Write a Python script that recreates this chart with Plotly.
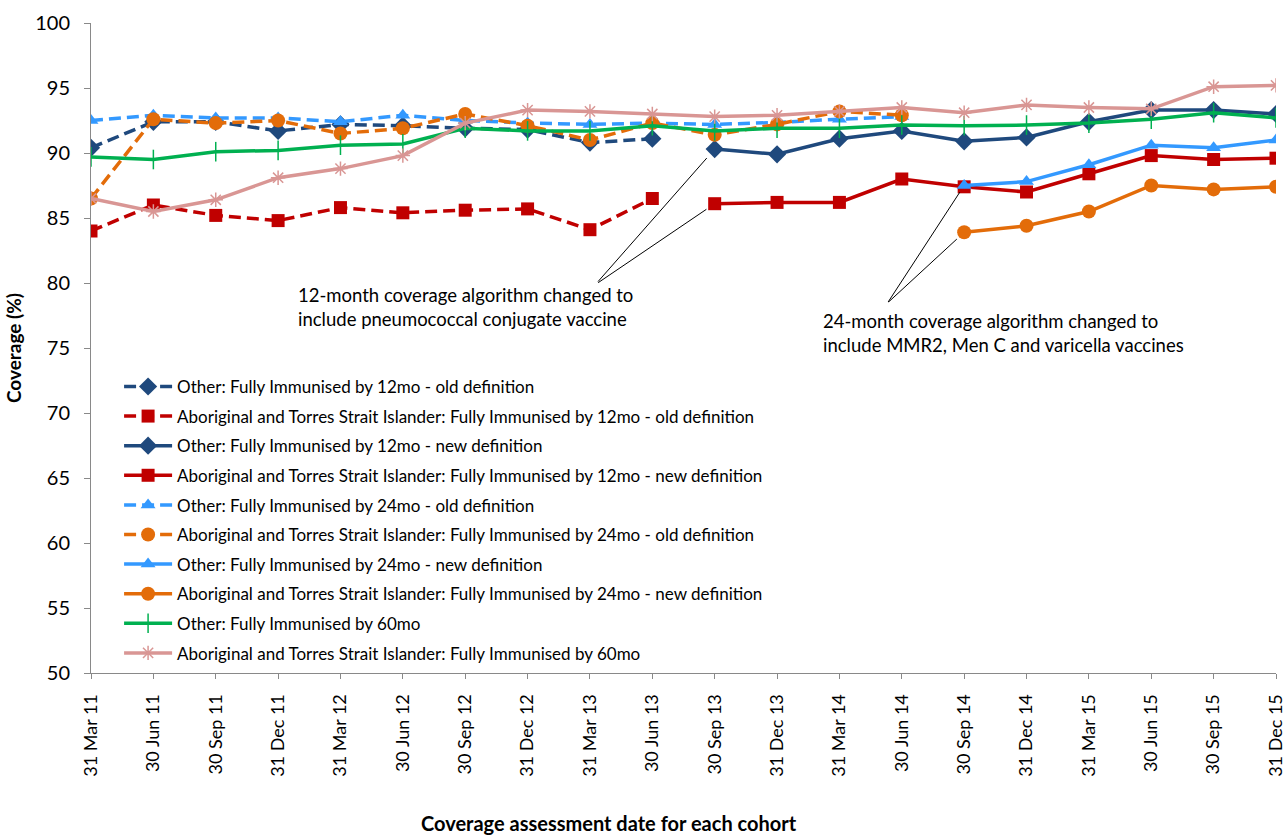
import plotly.graph_objects as go

dates = ["31 Mar 11", "30 Jun 11", "30 Sep 11", "31 Dec 11", "31 Mar 12", "30 Jun 12",
         "30 Sep 12", "31 Dec 12", "31 Mar 13", "30 Jun 13", "30 Sep 13", "31 Dec 13",
         "31 Mar 14", "30 Jun 14", "30 Sep 14", "31 Dec 14", "31 Mar 15", "30 Jun 15",
         "30 Sep 15", "31 Dec 15"]

N = None
other_12_old = [90.4, 92.4, 92.4, 91.7, 92.2, 92.1, 91.9, 91.8, 90.8, 91.1,
                N, N, N, N, N, N, N, N, N, N]
abor_12_old = [84.0, 86.0, 85.2, 84.8, 85.8, 85.4, 85.6, 85.7, 84.1, 86.5,
               N, N, N, N, N, N, N, N, N, N]
other_12_new = [N, N, N, N, N, N, N, N, N, N,
                90.3, 89.9, 91.1, 91.7, 90.9, 91.2, 92.4, 93.3, 93.3, 93.0]
abor_12_new = [N, N, N, N, N, N, N, N, N, N,
               86.1, 86.2, 86.2, 88.0, 87.4, 87.0, 88.4, 89.8, 89.5, 89.6]
other_24_old = [92.5, 92.9, 92.7, 92.7, 92.4, 92.9, 92.5, 92.3, 92.2, 92.3,
                92.2, 92.35, 92.6, 92.8, N, N, N, N, N, N]
abor_24_old = [86.5, 92.6, 92.3, 92.5, 91.5, 91.9, 93.0, 92.1, 91.0, 92.3,
               91.4, 92.2, 93.2, 92.9, N, N, N, N, N, N]
other_24_new = [N, N, N, N, N, N, N, N, N, N, N, N, N, N,
                87.5, 87.8, 89.1, 90.6, 90.4, 91.0]
abor_24_new = [N, N, N, N, N, N, N, N, N, N, N, N, N, N,
               83.9, 84.4, 85.5, 87.5, 87.2, 87.4]
other_60 = [89.7, 89.5, 90.1, 90.2, 90.6, 90.7, 91.9, 91.7, 91.7, 92.1,
            91.7, 91.9, 91.9, 92.15, 92.1, 92.15, 92.3, 92.6, 93.1, 92.7]
abor_60 = [86.5, 85.5, 86.4, 88.1, 88.8, 89.8, 92.3, 93.3, 93.2, 93.0,
           92.8, 92.9, 93.2, 93.5, 93.1, 93.7, 93.5, 93.4, 95.1, 95.2]

names = [
    "Other: Fully Immunised by 12mo - old definition",
    "Aboriginal and Torres Strait Islander: Fully Immunised by 12mo - old definition",
    "Other: Fully Immunised by 12mo - new definition",
    "Aboriginal and Torres Strait Islander: Fully Immunised by 12mo - new definition",
    "Other: Fully Immunised by 24mo - old definition",
    "Aboriginal and Torres Strait Islander: Fully Immunised by 24mo - old definition",
    "Other: Fully Immunised by 24mo - new definition",
    "Aboriginal and Torres Strait Islander: Fully Immunised by 24mo - new definition",
    "Other: Fully Immunised by 60mo",
    "Aboriginal and Torres Strait Islander: Fully Immunised by 60mo",
]
series = [other_12_old, abor_12_old, other_12_new, abor_12_new, other_24_old,
          abor_24_old, other_24_new, abor_24_new, other_60, abor_60]

DB, RED, LB, OR, GR, PK = "#1F497D", "#C00000", "#3399FF", "#E36C09", "#00B050", "#D99694"
styles = [
    dict(color=DB, dash="12px,6px", symbol="diamond", size=14),
    dict(color=RED, dash="12px,6px", symbol="square", size=13),
    dict(color=DB, dash="solid", symbol="diamond", size=14),
    dict(color=RED, dash="solid", symbol="square", size=13),
    dict(color=LB, dash="12px,6px", symbol="triangle-up", size=13),
    dict(color=OR, dash="12px,6px", symbol="circle", size=14),
    dict(color=LB, dash="solid", symbol="triangle-up", size=13),
    dict(color=OR, dash="solid", symbol="circle", size=14),
    dict(color=GR, dash="solid", symbol="line-ns-open", size=14),
    dict(color=PK, dash="solid", symbol="asterisk-open", size=12),
]

FONT = "Lato, Open Sans, sans-serif"
fig = go.Figure()
for i, (nm, ys, st) in enumerate(zip(names, series, styles)):
    if st["symbol"] == "line-ns-open":
        mk = dict(symbol=st["symbol"], size=st["size"], line=dict(color=st["color"], width=1.5))
    elif st["symbol"] == "asterisk-open":
        mk = dict(symbol=st["symbol"], size=st["size"], line=dict(color="#E6B9B8", width=1.5))
    else:
        mk = dict(symbol=st["symbol"], size=st["size"], color=st["color"], line=dict(width=0))
    fig.add_trace(go.Scatter(
        x=dates, y=ys, name=nm, mode="lines+markers", connectgaps=False,
        line=dict(color=st["color"], width=3.5, dash=st["dash"]),
        marker=mk, legendgroup=f"g{i}",
    ))

ann_text_font = dict(family=FONT, size=18.5, color="black")
arrow = dict(xref="x", yref="y", axref="pixel", ayref="pixel", showarrow=True,
             arrowhead=0, arrowwidth=1, arrowcolor="black", text="")
annotations = [
    dict(x="30 Sep 13", y=other_12_new[10], ax=-118, ay=134, standoff=12, **arrow),
    dict(x="30 Sep 13", y=abor_12_new[10], ax=-118, ay=80, standoff=10, **arrow),
    dict(x="30 Sep 14", y=other_24_new[14], ax=-77, ay=118, standoff=8, **arrow),
    dict(x="30 Sep 14", y=abor_24_new[14], ax=-77, ay=71, standoff=10, **arrow),
    dict(x=0.1730, y=0.6015, xref="paper", yref="paper", xanchor="left", yanchor="top",
         align="left", showarrow=False, font=ann_text_font,
         text="12-month coverage algorithm changed to<br>include pneumococcal conjugate vaccine"),
    dict(x=0.6160, y=0.5615, xref="paper", yref="paper", xanchor="left", yanchor="top",
         align="left", showarrow=False, font=ann_text_font,
         text="24-month coverage algorithm changed to<br>include MMR2, Men C and varicella vaccines"),
    # x-axis title (placed as in the reference, left of the plot centre)
    dict(x=0.4372, y=-0.2315, xref="paper", yref="paper", xanchor="center", yanchor="middle",
         showarrow=False, font=dict(family=FONT, size=20, color="black"),
         text="<b>Coverage assessment date for each cohort</b>"),
]

fig.update_layout(
    width=1286, height=836,
    margin=dict(l=91, r=10, t=23, b=163, autoexpand=False),
    paper_bgcolor="white", plot_bgcolor="white",
    font=dict(family=FONT, color="black"),
    showlegend=True,
    legend=dict(x=0.0237, y=0.4678, xanchor="left", yanchor="top",
                bgcolor="rgba(0,0,0,0)", font=dict(family=FONT, size=17, color="black"),
                traceorder="grouped", tracegroupgap=4.5, itemwidth=48),
    annotations=annotations,
    xaxis=dict(
        type="category", range=[0, 19], tickangle=-90,
        tickfont=dict(family=FONT, size=18, color="black"),
        showline=True, linecolor="#898989", linewidth=1, ticks="outside",
        tickcolor="#898989", ticklen=5, showgrid=False, zeroline=False,
        automargin=False, ticklabelstandoff=8,
    ),
    yaxis=dict(
        range=[50, 100], dtick=5, tickfont=dict(family=FONT, size=20, color="black"),
        showline=True, linecolor="#898989", linewidth=1, ticks="outside",
        tickcolor="#898989", ticklen=6, showgrid=False, zeroline=False,
        automargin=False, ticklabelstandoff=10,
        title=dict(text="<b>Coverage (%)</b>", font=dict(family=FONT, size=19, color="black"),
                   standoff=8),
    ),
)

fig.write_html("out.html", config={"displayModeBar": False},
               post_script="document.body.style.margin='0px';")
